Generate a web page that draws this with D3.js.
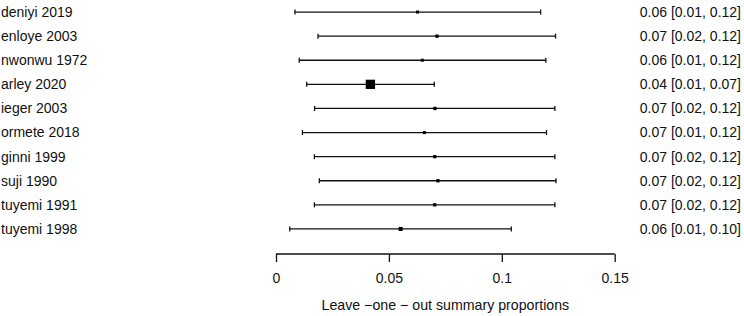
<!DOCTYPE html>
<html>
<head>
<meta charset="utf-8">
<script src="https://cdn.jsdelivr.net/npm/d3@7"></script>
<style>
  body { margin: 0; background: #fff; }
  svg { display: block; font-family: "Liberation Sans", Arial, sans-serif; }
</style>
</head>
<body>
<div id="chart"></div>
<script>
// leave-one-out results
var studies = ["deniyi 2019", "enloye 2003", "nwonwu 1972", "arley 2020", "ieger 2003",
               "ormete 2018", "ginni 1999", "suji 1990", "tuyemi 1991", "tuyemi 1998"];
var estimates = [0.0627, 0.0713, 0.0648, 0.0418, 0.0704, 0.0657, 0.0703, 0.0717, 0.0703, 0.0552];
var lower = [0.0084, 0.0186, 0.0103, 0.0136, 0.0171, 0.0117, 0.0170, 0.0192, 0.0170, 0.0061];
var upper = [0.1172, 0.1238, 0.1195, 0.0701, 0.1235, 0.1198, 0.1235, 0.1240, 0.1235, 0.1042];
var weights = [1.0, 1.1, 1.0, 3.1, 1.1, 1.0, 1.1, 1.1, 1.1, 1.35];
var annotations = ["0.06 [0.01, 0.12]", "0.07 [0.02, 0.12]", "0.06 [0.01, 0.12]", "0.04 [0.01, 0.07]",
                   "0.07 [0.02, 0.12]", "0.07 [0.01, 0.12]", "0.07 [0.02, 0.12]", "0.07 [0.02, 0.12]",
                   "0.07 [0.02, 0.12]", "0.06 [0.01, 0.10]"];
var tickValues = [0, 0.05, 0.1, 0.15];
var tickLabels = ["0", "0.05", "0.1", "0.15"];
var xTitle = "Leave \u2212one \u2212 out summary proportions";

var width = 744, height = 316;

var svg = d3.select("#chart").append("svg")
    .attr("width", width)
    .attr("height", height);

var x = d3.scaleLinear().domain([0, 0.15]).range([276, 614.7]);
var y = d3.scaleBand().domain(d3.range(studies.length)).range([0, 241]);
var size = d3.scaleLinear().domain([0, 1]).range([0, 3]);

var rows = svg.append("g").selectAll("g")
    .data(studies)
    .enter().append("g")
    .attr("transform", function(d, i) { return "translate(0," + (y(i) + y.bandwidth() / 2) + ")"; });

// study names (cut at the left edge as in the original)
rows.append("text")
    .attr("x", 1)
    .attr("dy", "0.35em")
    .attr("font-size", 14)
    .attr("fill", "#111")
    .text(function(d) { return d; });

// confidence intervals
rows.append("line")
    .attr("x1", function(d, i) { return x(lower[i]); })
    .attr("x2", function(d, i) { return x(upper[i]); })
    .attr("stroke", "#111")
    .attr("stroke-width", 1.3);

rows.append("line")
    .attr("x1", function(d, i) { return x(lower[i]); })
    .attr("x2", function(d, i) { return x(lower[i]); })
    .attr("y1", -2.5).attr("y2", 2.5)
    .attr("stroke", "#111")
    .attr("stroke-width", 1.3);

rows.append("line")
    .attr("x1", function(d, i) { return x(upper[i]); })
    .attr("x2", function(d, i) { return x(upper[i]); })
    .attr("y1", -2.5).attr("y2", 2.5)
    .attr("stroke", "#111")
    .attr("stroke-width", 1.3);

// point estimates, sized by weight
rows.append("rect")
    .attr("x", function(d, i) { return x(estimates[i]) - size(weights[i]) / 2; })
    .attr("y", function(d, i) { return -size(weights[i]) / 2; })
    .attr("width", function(d, i) { return size(weights[i]); })
    .attr("height", function(d, i) { return size(weights[i]); })
    .attr("fill", "#000");

// estimate [CI] text on the right
rows.append("text")
    .attr("x", 741)
    .attr("dy", "0.35em")
    .attr("text-anchor", "end")
    .attr("font-size", 14)
    .attr("fill", "#111")
    .text(function(d, i) { return annotations[i]; });

// x axis
var axis = d3.axisBottom(x)
    .tickValues(tickValues)
    .tickSize(8)
    .tickPadding(11.4)
    .tickFormat(function(d, i) { return tickLabels[i]; });

var ax = svg.append("g")
    .attr("transform", "translate(0,254)")
    .call(axis);

ax.select(".domain").attr("d", "M" + x(0) + ",0H" + x(0.15)).attr("stroke", "#111").attr("stroke-width", 1.3);
ax.selectAll(".tick line").attr("stroke", "#111").attr("stroke-width", 1.3);
ax.selectAll(".tick text")
    .attr("font-size", 14)
    .attr("font-family", "Liberation Sans, Arial, sans-serif")
    .attr("fill", "#111");

svg.append("text")
    .attr("x", (x(0) + x(0.15)) / 2)
    .attr("y", 310)
    .attr("text-anchor", "middle")
    .attr("font-size", 14.2)
    .attr("fill", "#111")
    .text(xTitle);
</script>
</body>
</html>
